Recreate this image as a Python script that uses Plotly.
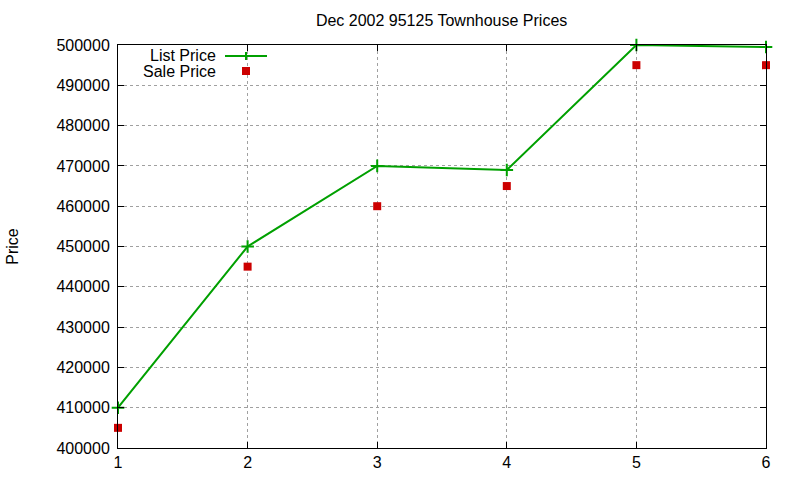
import plotly.graph_objects as go

x_vals = [1, 2, 3, 4, 5, 6]
list_price = [410000, 450000, 470000, 469000, 500000, 499500]
sale_price = [405000, 445000, 460000, 465000, 495000, 495000]
y_ticks = [400000, 410000, 420000, 430000, 440000, 450000, 460000, 470000, 480000, 490000, 500000]

GREEN = "#00a000"
RED = "#cc0000"
FONT = "Liberation Sans, Arial, sans-serif"

L, R, T, B = 118, 766, 45, 448
W, H = 800, 480

def px(xp):
    return (xp - L) / (R - L)

def py(yp):
    return (B - yp) / (B - T)

fig = go.Figure()
fig.add_trace(go.Scatter(
    x=x_vals, y=list_price, mode="lines+markers", name="List Price",
    line=dict(color=GREEN, width=2),
    marker=dict(symbol="cross-thin", size=9, line=dict(color=GREEN, width=2), color=GREEN),
    showlegend=False, cliponaxis=False,
))
fig.add_trace(go.Scatter(
    x=x_vals, y=sale_price, mode="markers", name="Sale Price",
    marker=dict(symbol="square", size=8, color=RED, line=dict(width=0)),
    showlegend=False, cliponaxis=False,
))

axis_common = dict(
    showline=True, linecolor="black", linewidth=1, mirror="ticks",
    ticks="inside", ticklen=6, tickcolor="black",
    showgrid=True, gridcolor="#a0a0a0", griddash="dot", gridwidth=1,
    zeroline=False, tickfont=dict(family=FONT, size=16, color="black"),
    automargin=False,
)

fig.update_xaxes(range=[1, 6], tickvals=x_vals, ticktext=[str(v) for v in x_vals], **axis_common)
fig.update_yaxes(range=[400000, 500000], tickvals=y_ticks, ticktext=[str(v) for v in y_ticks],
                 title=dict(text="Price", font=dict(family=FONT, size=16, color="black"), standoff=33),
                 ticklabelstandoff=4, **axis_common)

# legend (manual, gnuplot-style: text left of sample)
shapes = [
    dict(type="line", xref="paper", yref="paper", x0=px(225), x1=px(267), y0=py(56), y1=py(56),
         line=dict(color=GREEN, width=2)),
    dict(type="line", xref="paper", yref="paper", x0=px(246), x1=px(246), y0=py(52), y1=py(60),
         line=dict(color=GREEN, width=2)),
    dict(type="rect", xref="paper", yref="paper", x0=px(242), x1=px(250), y0=py(67), y1=py(75),
         fillcolor=RED, line=dict(width=0)),
]
annotations = [
    dict(text="List Price", xref="paper", yref="paper", x=px(218), y=py(55), xanchor="right",
         yanchor="middle", showarrow=False, font=dict(family=FONT, size=16, color="black")),
    dict(text="Sale Price", xref="paper", yref="paper", x=px(218), y=py(71), xanchor="right",
         yanchor="middle", showarrow=False, font=dict(family=FONT, size=16, color="black")),
]

fig.update_layout(
    width=W, height=H,
    margin=dict(l=L, r=W - R, t=T, b=H - B, autoexpand=False),
    paper_bgcolor="white", plot_bgcolor="white",
    title=dict(text="Dec 2002 95125 Townhouse Prices", x=0.552, xanchor="center", y=1 - 20 / H,
               yanchor="middle", font=dict(family=FONT, size=16, color="black")),
    shapes=shapes, annotations=annotations,
    showlegend=False,
)

fig.write_html("out.html")
